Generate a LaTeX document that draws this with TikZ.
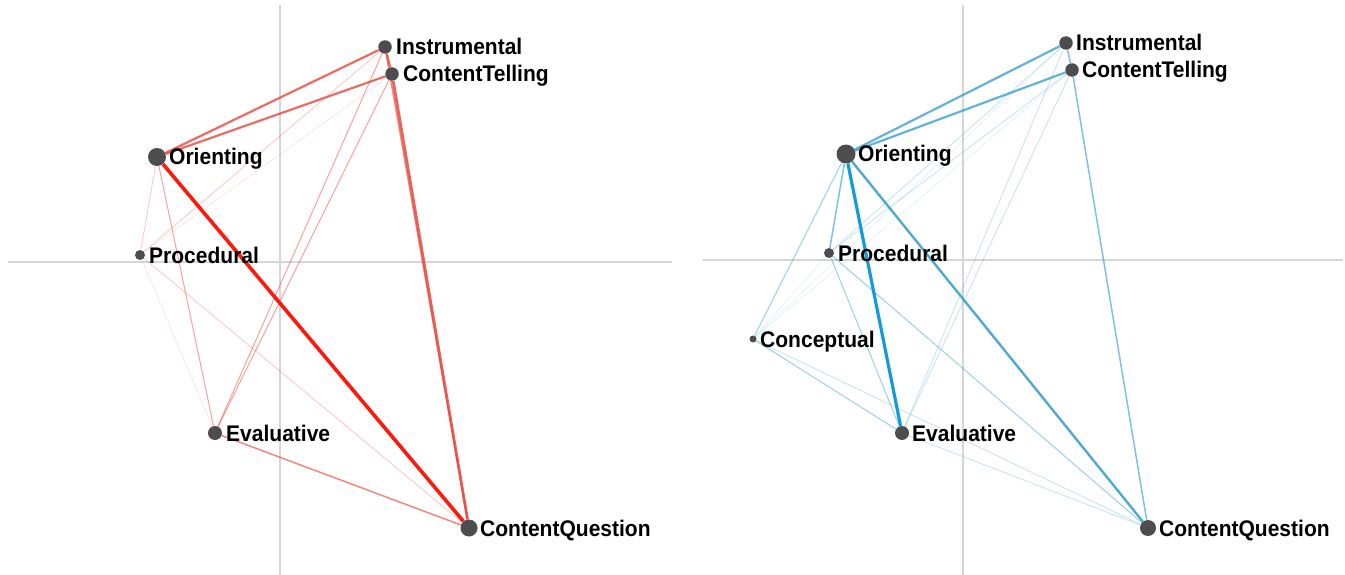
\documentclass[tikz,border=0pt]{standalone}
\usepackage{fontspec}
\setmainfont{Liberation Sans}
\newfontfamily\lblfont[FakeStretch=0.93]{Liberation Sans}
\usepackage{tikz}
\usetikzlibrary{positioning}
\definecolor{dotgray}{RGB}{77, 77, 77}
\definecolor{axisgray}{RGB}{214, 214, 214}
\definecolor{netred}{RGB}{232, 70, 60}
\definecolor{hotred}{RGB}{255, 24, 12}
\definecolor{netblue}{RGB}{60, 160, 205}
\definecolor{hotblue}{RGB}{20, 155, 220}
\pgfdeclarelayer{bg}
\pgfsetlayers{bg,main}

\begin{document}
\begin{tikzpicture}[
    x=1pt, y=-1pt,
    dot/.style={circle, fill=dotgray, inner sep=0pt, minimum size=#1},
    lbl/.style={inner sep=0pt, anchor=west, text height=16pt, text depth=0pt,
        font=\lblfont\fontsize{22.6}{27}\selectfont\bfseries},
    axis/.style={draw=axisgray, line width=1.3pt},
    hot/.style={line width=3.6pt},
    strong/.style={line width=2.2pt, opacity=0.8},
    mid/.style={line width=1.5pt, opacity=0.65},
    weak/.style={line width=1pt, opacity=0.5},
    thin/.style={line width=0.8pt, opacity=0.3},
    faint/.style={line width=0.7pt, opacity=0.15}
]
\useasboundingbox (0,0) rectangle (1345,575);

% left panel
\node[dot=18pt] (o) at (157,157) {};
\node[dot=13.5pt] (i) at (385,47) {};
\node[dot=13.5pt] (ct) at (392,74) {};
\node[dot=10pt] (p) at (140,255) {};
\node[dot=14pt] (e) at (215,433) {};
\node[dot=17pt] (cq) at (469,528) {};
\node[lbl, right=12pt of o.center] (oL) {Orienting};
\node[lbl, right=11pt of i.center] (iL) {Instrumental};
\node[lbl, right=11pt of ct.center] (ctL) {ContentTelling};
\node[lbl, right=9pt of p.center] (pL) {Procedural};
\node[lbl, right=11pt of e.center] (eL) {Evaluative};
\node[lbl, right=11pt of cq.center] (cqL) {ContentQuestion};

% right panel
\node[dot=19pt] (o2) at (846,154) {};
\node[dot=13.5pt] (i2) at (1066,43) {};
\node[dot=13.5pt] (ct2) at (1072,70) {};
\node[dot=10pt] (p2) at (829,253) {};
\node[dot=7pt] (c2) at (753,339) {};
\node[dot=14pt] (e2) at (902,433) {};
\node[dot=16pt] (cq2) at (1148,528) {};
\node[lbl, right=12pt of o2.center] (o2L) {Orienting};
\node[lbl, right=10pt of i2.center] (i2L) {Instrumental};
\node[lbl, right=10pt of ct2.center] (ct2L) {ContentTelling};
\node[lbl, right=9pt of p2.center] (p2L) {Procedural};
\node[lbl, right=7pt of c2.center] (c2L) {Conceptual};
\node[lbl, right=10pt of e2.center] (e2L) {Evaluative};
\node[lbl, right=11pt of cq2.center] (cq2L) {ContentQuestion};

\begin{pgfonlayer}{bg}
\coordinate (ax1t) at (280,5);
\coordinate (ax1b) at (280,575);
\coordinate (ax1l) at (8,262);
\coordinate (ax1r) at (672,262);
\coordinate (ax2t) at (963,5);
\coordinate (ax2b) at (963,575);
\coordinate (ax2l) at (703,260);
\coordinate (ax2r) at (1343,260);
\draw[axis] (ax1t) -- (ax1b);
\draw[axis] (ax1l) -- (ax1r);
\draw[axis] (ax2t) -- (ax2b);
\draw[axis] (ax2l) -- (ax2r);

\begin{scope}[draw=netred]
\draw[faint] (p) -- (ct);
\draw[thin] (p) -- (i);
\draw[faint] (p) -- (e);
\draw[thin] (o) -- (p);
\draw[thin] (p) -- (cq);
\draw[weak] (i) -- (e);
\draw[weak] (ct) -- (e);
\draw[weak] (o) -- (e);
\draw[mid] (e) -- (cq);
\draw[mid] (i) -- (cq);
\draw[strong, line width=2.8pt, opacity=0.85] (ct) -- (cq);
\draw[strong] (o) -- (i);
\draw[strong] (o) -- (ct);
\draw[strong] (i) -- (ct);
\draw[hot, draw=hotred] (o) -- (cq);
\end{scope}

\begin{scope}[draw=netblue]
\draw[faint] (c2) -- (i2);
\draw[faint] (c2) -- (ct2);
\draw[faint] (c2) -- (p2);
\draw[thin] (p2) -- (i2);
\draw[thin] (p2) -- (ct2);
\draw[thin] (e2) -- (i2);
\draw[thin] (e2) -- (ct2);
\draw[thin] (c2) -- (cq2);
\draw[thin] (e2) -- (cq2);
\draw[weak] (c2) -- (e2);
\draw[weak] (p2) -- (e2);
\draw[weak] (p2) -- (cq2);
\draw[weak] (o2) -- (c2);
\draw[mid] (ct2) -- (cq2);
\draw[mid] (o2) -- (p2);
\draw[mid] (i2) -- (ct2);
\draw[strong] (o2) -- (i2);
\draw[strong] (o2) -- (ct2);
\draw[strong, line width=2.4pt, opacity=0.9] (o2) -- (cq2);
\draw[line width=3.2pt, draw=hotblue] (o2) -- (e2);
\end{scope}
\end{pgfonlayer}
\end{tikzpicture}
\end{document}
